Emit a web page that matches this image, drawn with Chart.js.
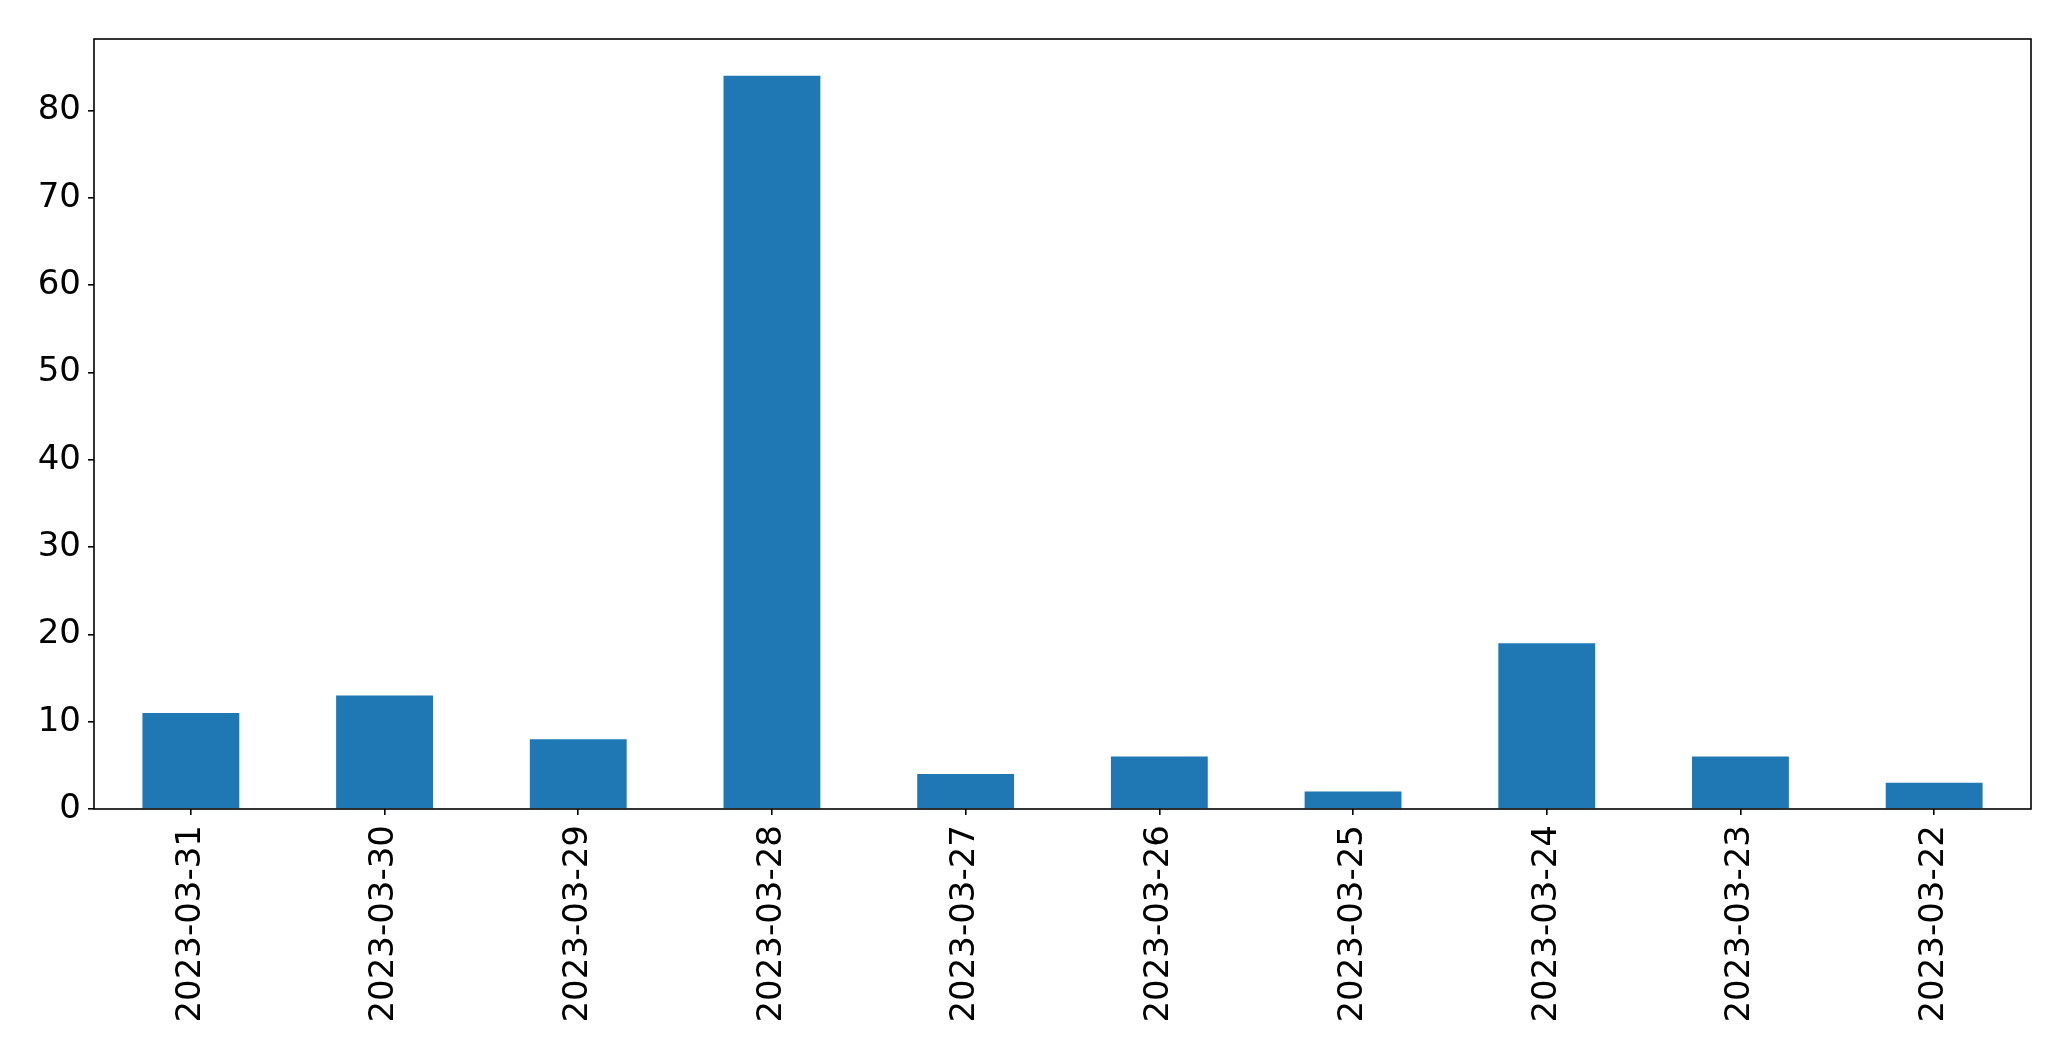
<!DOCTYPE html>
<html>
<head>
<meta charset="utf-8">
<script src="https://cdn.jsdelivr.net/npm/chart.js@4"></script>
<style>
  body { margin: 0; background: #fff; }
  #wrap { width: 2071px; height: 1061px; }
</style>
</head>
<body>
<div id="wrap"><canvas id="bars"></canvas></div>
<script>
var dates = ['2023-03-31','2023-03-30','2023-03-29','2023-03-28','2023-03-27','2023-03-26','2023-03-25','2023-03-24','2023-03-23','2023-03-22'];
var counts = [11, 13, 8, 84, 4, 6, 2, 19, 6, 3];
var yTicks = [0, 10, 20, 30, 40, 50, 60, 70, 80];

// box around the plot area, like matplotlib's spines
var frame = {
    id: 'frame',
    afterDraw: function (chart) {
        var a = chart.chartArea, c = chart.ctx;
        c.save();
        c.strokeStyle = '#000';
        c.lineWidth = 1.6;
        c.strokeRect(a.left, a.top, a.right - a.left, a.bottom - a.top);
        c.restore();
    }
};

var ctx = document.getElementById('bars').getContext('2d');
new Chart(ctx, {
    type: 'bar',
    data: {
        labels: dates,
        datasets: [{
            data: counts,
            backgroundColor: '#1f77b4',
            barPercentage: 0.5,
            categoryPercentage: 1.0
        }]
    },
    options: {
        responsive: true,
        maintainAspectRatio: false,
        animation: false,
        layout: { padding: { top: 39, right: 40, left: 0, bottom: 0 } },
        plugins: { legend: { display: false }, tooltip: { enabled: false } },
        scales: {
            x: {
                afterFit: function (s) { s.height = 252; },
                border: { display: false },
                grid: { offset: false, drawOnChartArea: false, drawTicks: true, tickLength: 6, color: '#000', lineWidth: 1.6 },
                ticks: {
                    minRotation: 90, maxRotation: 90, padding: 10,
                    color: '#000', font: { family: 'DejaVu Sans', size: 34 }
                }
            },
            y: {
                min: 0,
                max: 88.2,
                afterFit: function (s) { s.width = 94; },
                afterBuildTicks: function (s) { s.ticks = yTicks.map(function (v) { return { value: v }; }); },
                border: { display: false },
                grid: { drawOnChartArea: false, drawTicks: true, tickLength: 6, color: '#000', lineWidth: 1.6 },
                ticks: {
                    padding: 7,
                    color: '#000', font: { family: 'DejaVu Sans', size: 34 }
                }
            }
        }
    },
    plugins: [frame]
});
</script>
</body>
</html>
